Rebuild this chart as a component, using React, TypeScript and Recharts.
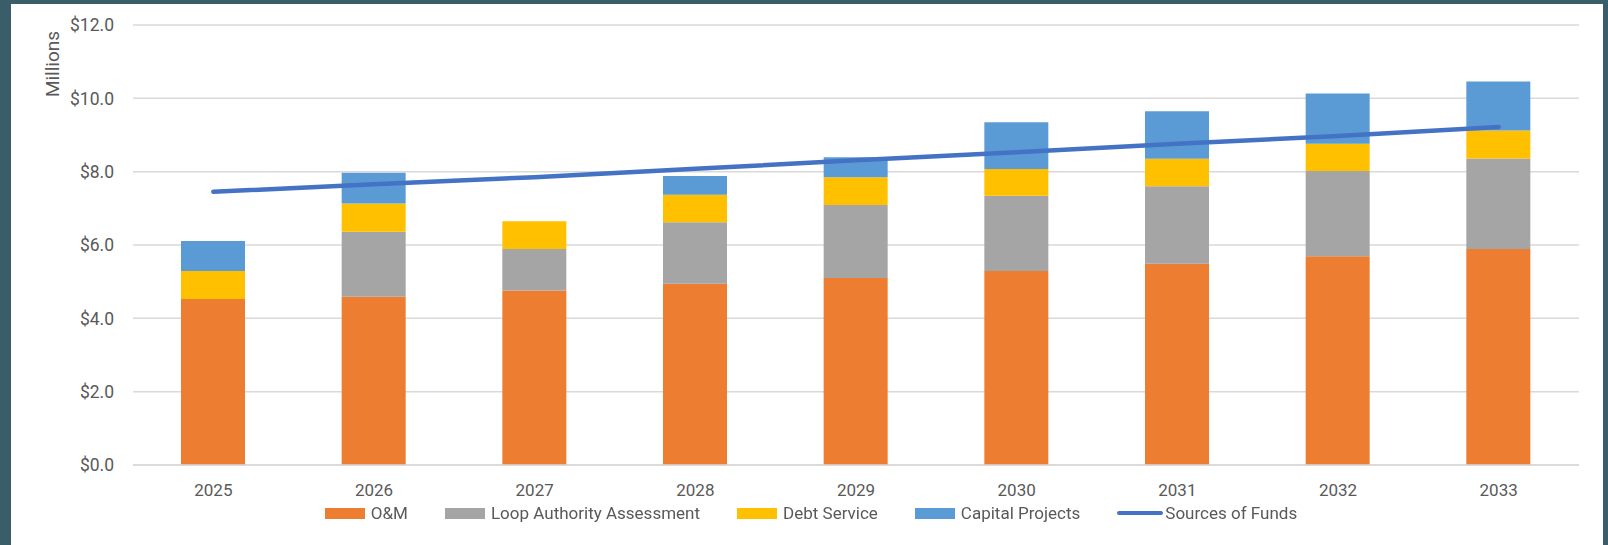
import React from 'react';
import { ComposedChart, Bar, Line, XAxis, YAxis, CartesianGrid, Legend } from 'recharts';

const years = ['2025', '2026', '2027', '2028', '2029', '2030', '2031', '2032', '2033'];
const omValues = [4.53, 4.59, 4.76, 4.94, 5.10, 5.29, 5.49, 5.69, 5.89];
const loopValues = [0, 1.77, 1.13, 1.68, 1.99, 2.05, 2.11, 2.33, 2.47];
const debtValues = [0.76, 0.77, 0.76, 0.75, 0.76, 0.73, 0.75, 0.74, 0.76];
const capitalValues = [0.82, 0.84, 0, 0.51, 0.54, 1.28, 1.30, 1.37, 1.34];
const sourcesValues = [7.45, 7.66, 7.85, 8.08, 8.31, 8.53, 8.76, 8.97, 9.22];
const yTicks = [0, 2, 4, 6, 8, 10, 12];

const seriesInfo = [
  { key: 'om', name: 'O&M', color: '#ED7D31', type: 'bar' },
  { key: 'loop', name: 'Loop Authority Assessment', color: '#A5A5A5', type: 'bar' },
  { key: 'debt', name: 'Debt Service', color: '#FFC000', type: 'bar' },
  { key: 'capital', name: 'Capital Projects', color: '#5B9BD5', type: 'bar' },
  { key: 'sources', name: 'Sources of Funds', color: '#4472C4', type: 'line' },
];

const data = years.map((y, i) => ({
  year: y,
  om: omValues[i],
  loop: loopValues[i],
  debt: debtValues[i],
  capital: capitalValues[i],
  sources: sourcesValues[i],
}));

const FONT = 'Roboto, "Open Sans", sans-serif';
const TEXT = '#595959';

const LegendContent = () => (
  <div style={{ display: 'flex', justifyContent: 'center', alignItems: 'center', fontFamily: FONT, fontSize: 17, color: TEXT, whiteSpace: 'nowrap' }}>
    {seriesInfo.map((s, i) => (
      <div key={s.key} style={{ display: 'flex', alignItems: 'center', marginLeft: i === 0 ? 0 : 37 }}>
        {s.type === 'bar' ? (
          <div style={{ width: 40, height: 11, background: s.color, marginRight: 6 }} />
        ) : (
          <div style={{ width: 46, height: 4, borderRadius: 2, background: s.color, marginRight: 2 }} />
        )}
        <span>{s.name}</span>
      </div>
    ))}
  </div>
);

const MillionsLabel = () => (
  <text x={52} y={64} transform="rotate(-90, 52, 64)" textAnchor="middle" dominantBaseline="central" fill={TEXT} fontSize={19} fontFamily={FONT}>
    Millions
  </text>
);

export default function App() {
  return (
    <div style={{ position: 'fixed', left: 0, top: 0, width: 1608, height: 545, background: '#395E69' }}>
      <div style={{ position: 'absolute', left: 11, top: 4, width: 1592, height: 541, background: '#FFFFFF' }} />
      <div style={{ position: 'absolute', left: 0, top: 0 }}>
        <ComposedChart
          width={1608}
          height={545}
          data={data}
          margin={{ top: 25, right: 29, bottom: 50, left: 11 }}
          barCategoryGap="30%"
          style={{ fontFamily: FONT }}
        >
          <CartesianGrid vertical={false} stroke="#D9D9D9" strokeWidth={1.5} />
          <XAxis
            dataKey="year"
            height={30}
            tickLine={false}
            tickSize={0}
            tickMargin={19}
            axisLine={{ stroke: '#D9D9D9', strokeWidth: 1.5 }}
            tick={{ fill: TEXT, fontSize: 17, fontFamily: FONT }}
          />
          <YAxis
            width={122}
            domain={[0, 12]}
            ticks={yTicks}
            interval={0}
            tickLine={false}
            axisLine={false}
            tickSize={0}
            tickMargin={19}
            tickFormatter={(v: number) => `$${v.toFixed(1)}`}
            tick={{ fill: TEXT, fontSize: 17.5, fontFamily: FONT }}
            label={<MillionsLabel />}
          />
          <Bar dataKey="om" name="O&M" stackId="a" fill="#ED7D31" barSize={64} isAnimationActive={false} />
          <Bar dataKey="loop" name="Loop Authority Assessment" stackId="a" fill="#A5A5A5" barSize={64} isAnimationActive={false} />
          <Bar dataKey="debt" name="Debt Service" stackId="a" fill="#FFC000" barSize={64} isAnimationActive={false} />
          <Bar dataKey="capital" name="Capital Projects" stackId="a" fill="#5B9BD5" barSize={64} isAnimationActive={false} />
          <Line
            dataKey="sources"
            name="Sources of Funds"
            type="linear"
            stroke="#4472C4"
            strokeWidth={4.5}
            strokeLinecap="round"
            dot={false}
            activeDot={false}
            isAnimationActive={false}
          />
          <Legend
            layout="horizontal"
            verticalAlign="middle"
            align="center"
            content={<LegendContent />}
            wrapperStyle={{ position: 'absolute', left: 11, top: 503, width: 1600, height: 20 }}
          />
        </ComposedChart>
      </div>
    </div>
  );
}
